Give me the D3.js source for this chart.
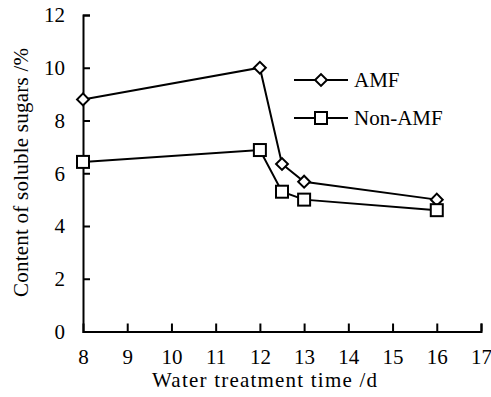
<!DOCTYPE html>
<html><head><meta charset="utf-8">
<script src="https://cdn.jsdelivr.net/npm/d3@7"></script>
<style>
svg text { font-family: "Liberation Serif", "Times New Roman", Tinos, Times, serif !important; }
</style>
</head><body style="margin:0;background:#fff">
<script>
const days = [8, 12, 12.5, 13, 16];
const amf = [8.8, 10.0, 6.35, 5.68, 5.0];
const nonAmf = [6.43, 6.88, 5.3, 5.0, 4.6];
const seriesNames = ["AMF", "Non-AMF"];
const xTicks = [8, 9, 10, 11, 12, 13, 14, 15, 16, 17];
const yTicks = [0, 2, 4, 6, 8, 10, 12];
const xTitle = "Water treatment time /d";
const yTitle = "Content of soluble sugars /%";

const W = 491, H = 397;
const svg = d3.select("body").append("svg").attr("width", W).attr("height", H)
  .style("display", "block");
const x = d3.scaleLinear().domain([8, 17]).range([83, 481]);
const y = d3.scaleLinear().domain([0, 12]).range([331.5, 15]);

const font = 21;
function txt(sel) {
  return sel.attr("font-family", "Times New Roman").attr("font-size", font).attr("fill", "#000");
}
// axes
const xAxis = svg.append("g").attr("transform", `translate(0,${y(0)})`)
  .call(d3.axisBottom(x).tickValues(xTicks).tickSize(-8).tickPadding(24).tickFormat(d3.format("d")));
const yAxis = svg.append("g").attr("transform", `translate(${x(8)},0)`)
  .call(d3.axisLeft(y).tickValues(yTicks).tickSize(-7).tickPadding(24).tickFormat(d3.format("d")));
[xAxis, yAxis].forEach(g => {
  g.attr("font-family", "Times New Roman").attr("font-size", font);
  g.select(".domain").attr("stroke", "#000").attr("stroke-width", 2);
  g.selectAll(".tick line").attr("stroke", "#000").attr("stroke-width", 2);
  txt(g.selectAll(".tick text"));
});
xAxis.selectAll(".tick text").attr("dy", "0").attr("y", 32);
yAxis.selectAll(".tick text").attr("x", -18).attr("dy", "0.33em");
xAxis.selectAll(".tick").filter(d => d === 8).select("line").remove();
yAxis.selectAll(".tick").filter(d => d === 0).select("line").remove();

// titles
txt(svg.append("text")).attr("x", 152).attr("y", 387)
  .attr("textLength", 225).attr("lengthAdjust", "spacing").text(xTitle);
txt(svg.append("text")).attr("transform", "translate(28,297) rotate(-90)")
  .attr("textLength", 249).attr("lengthAdjust", "spacing").text(yTitle);

const line = d3.line().x(d => x(d[0])).y(d => y(d[1]));
const data = [amf, nonAmf].map(v => days.map((d, i) => [d, v[i]]));

function marker(g, type, cx, cy) {
  if (type === 0) {
    g.append("path").attr("transform", `translate(${cx},${cy}) rotate(45)`)
      .attr("d", `M-4.2,-4.2H4.2V4.2H-4.2Z`)
      .attr("fill", "#fff").attr("stroke", "#000").attr("stroke-width", 2);
  } else {
    g.append("rect").attr("x", cx - 6).attr("y", cy - 6).attr("width", 12).attr("height", 12)
      .attr("fill", "#fff").attr("stroke", "#000").attr("stroke-width", 2);
  }
}

data.forEach((pts, si) => {
  svg.append("path").datum(pts).attr("d", line).attr("fill", "none")
    .attr("stroke", "#000").attr("stroke-width", 2);
  const g = svg.append("g");
  pts.forEach(p => marker(g, si, x(p[0]), y(p[1])));
});

// legend
const ly = [80, 118];
seriesNames.forEach((name, i) => {
  const g = svg.append("g");
  g.append("line").attr("x1", 294).attr("x2", 348).attr("y1", ly[i]).attr("y2", ly[i])
    .attr("stroke", "#000").attr("stroke-width", 2);
  marker(g, i, 321, ly[i]);
  txt(g.append("text")).attr("x", 354).attr("y", ly[i]).attr("dy", "0.34em").text(name);
});
</script>
</body></html>
